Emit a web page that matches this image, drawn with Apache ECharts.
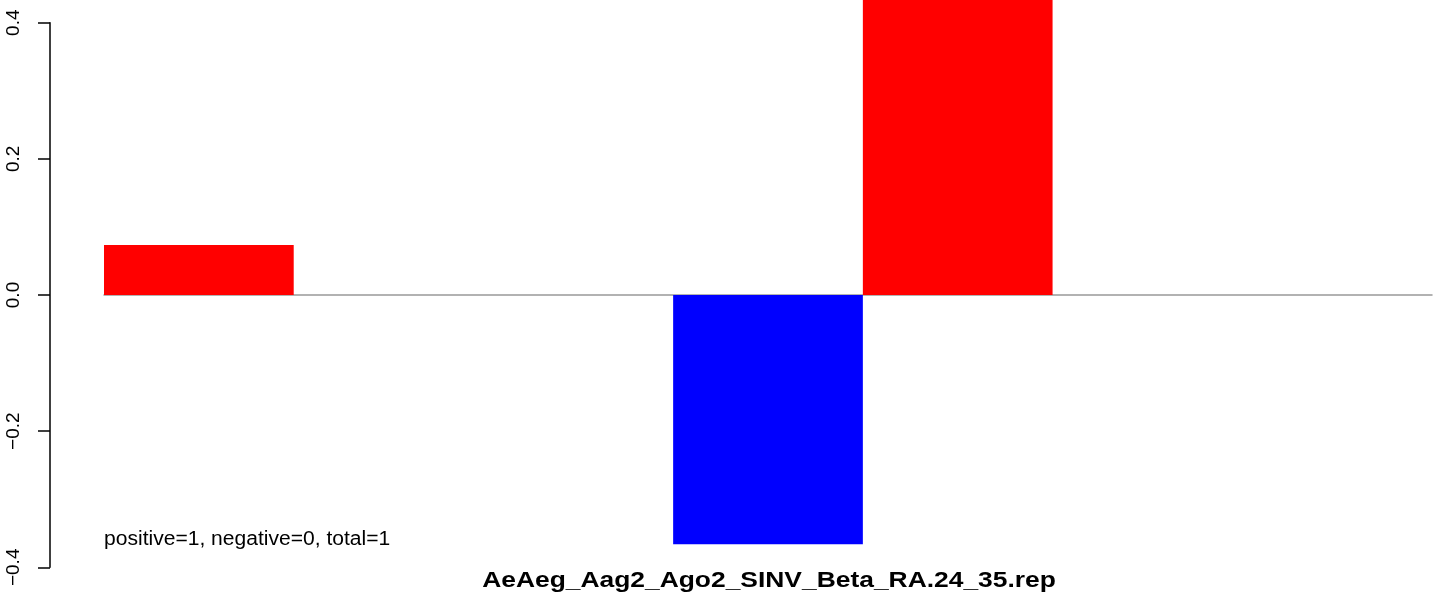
<!DOCTYPE html>
<html>
<head>
<meta charset="utf-8">
<script src="https://cdn.jsdelivr.net/npm/echarts@6/dist/echarts.min.js"></script>
<style>html,body{margin:0;padding:0;background:#fff;}#c{width:1444px;height:597px;}</style>
</head>
<body>
<div id="c"></div>
<script>
const categories = ['1', '2', '3', '4', '5', '6', '7'];
const values = [0.0734, 0, 0, -0.366, 0.47, 0, 0];
const barColors = ['#ff0000', '#ff0000', '#ff0000', '#0000ff', '#ff0000', '#ff0000', '#ff0000'];
const yTicks = [-0.4, -0.2, 0.0, 0.2, 0.4];
const xTitle = 'AeAeg_Aag2_Ago2_SINV_Beta_RA.24_35.rep';
const note = 'positive=1, negative=0, total=1';

const chart = echarts.init(document.getElementById('c'), null, {renderer: 'canvas'});
chart.setOption({
  animation: false,
  backgroundColor: '#ffffff',
  grid: {left: 104, right: 12, top: 22.7, bottom: 29.7, containLabel: false},
  xAxis: {
    type: 'category',
    data: categories,
    axisLine: {show: true, onZero: true, lineStyle: {color: '#999999', width: 1.5}},
    axisTick: {show: false},
    axisLabel: {show: false},
    splitLine: {show: false}
  },
  yAxis: {
    type: 'value',
    min: yTicks[0],
    max: yTicks[yTicks.length - 1],
    interval: 0.2,
    offset: 54,
    axisLine: {show: true, lineStyle: {color: '#000000', width: 1.5}},
    axisTick: {show: true, length: 12, lineStyle: {color: '#000000', width: 1.5}},
    axisLabel: {
      show: true,
      rotate: 90,
      margin: 27,
      color: '#000000',
      fontFamily: 'Liberation Sans',
      fontSize: 19,
      formatter: v => v.toFixed(1).replace('-', '\u2212')
    },
    splitLine: {show: false}
  },
  graphic: [{
    type: 'text',
    x: 769,
    y: 580.5,
    scaleX: 1.2,
    style: {text: xTitle, fontFamily: 'Liberation Sans', fontWeight: 'bold', fontSize: 22, fill: '#000000', align: 'center', verticalAlign: 'middle'}
  }, {
    type: 'text',
    x: 104,
    y: 539.7,
    scaleX: 1.08,
    style: {text: note, fontFamily: 'Liberation Sans', fontSize: 19.5, fill: '#000000', align: 'left', verticalAlign: 'middle'}
  }],
  series: [{
    type: 'bar',
    data: values.map((v, i) => ({value: v, itemStyle: {color: barColors[i]}})),
    barCategoryGap: 0,
    barWidth: '100%',
    clip: false,
    z: 1
  }]
});
</script>
</body>
</html>
